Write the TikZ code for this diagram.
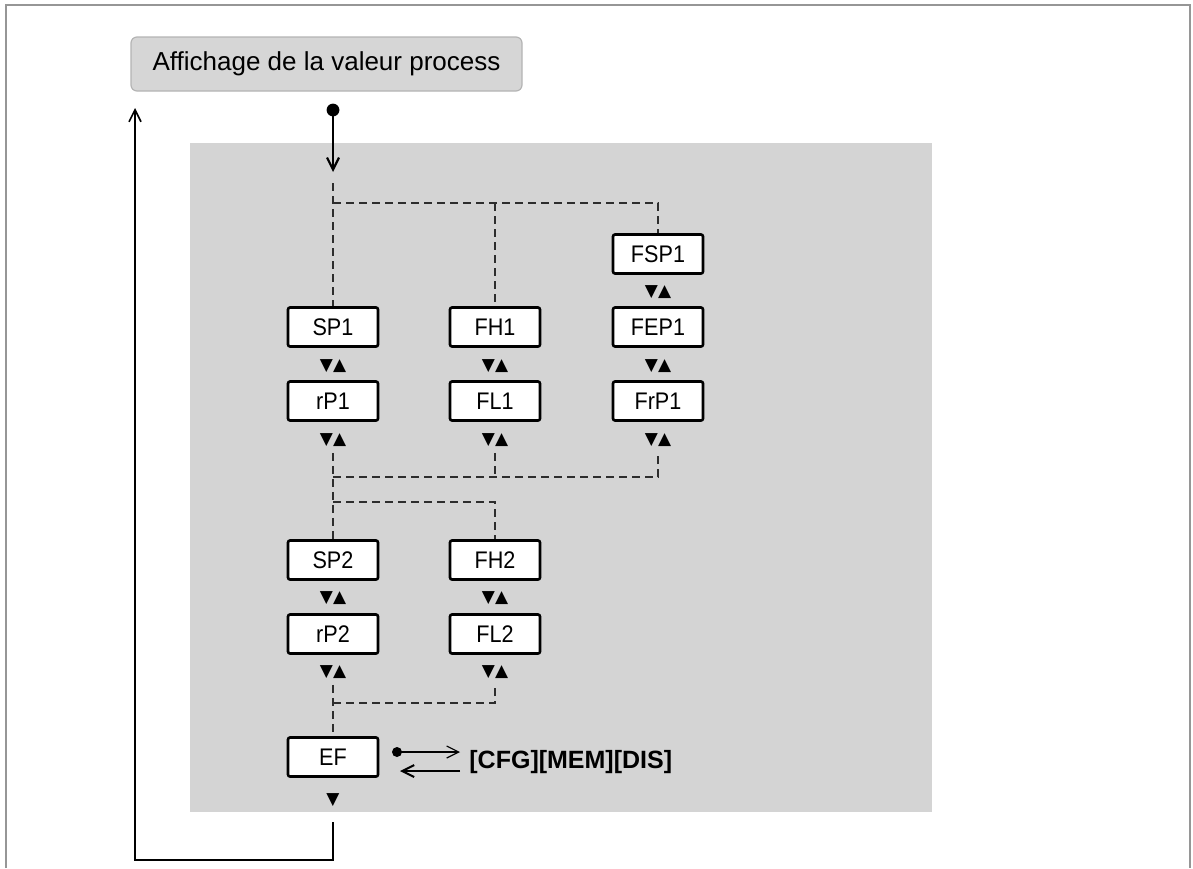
\documentclass[tikz,border=0pt]{standalone}
\usepackage{fontspec}
\setmainfont{Liberation Sans}
\newfontfamily\narrowfont[FakeStretch=0.9]{Liberation Sans}
\newfontfamily\symfont{DejaVu Sans}
\usetikzlibrary{arrows.meta}

\definecolor{panelgray}{RGB}{212,212,212}
\definecolor{titlegray}{RGB}{214,214,214}
\definecolor{titleedge}{RGB}{180,180,180}
\definecolor{framegray}{RGB}{150,150,150}
\definecolor{dashgray}{RGB}{45,45,45}

\tikzset{
  menubox/.style={draw, line width=1.3pt, fill=white, rounded corners=1pt,
    minimum width=45pt, minimum height=19.5pt, inner sep=0pt,
    font=\narrowfont\fontsize{12}{14}\selectfont},
  titlebox/.style={draw=titleedge, line width=0.6pt, fill=titlegray, rounded corners=3pt,
    minimum width=195.5pt, minimum height=27pt, inner sep=0pt,
    font=\fontsize{13}{15}\selectfont},
  updown/.style={inner sep=0pt, font=\symfont\fontsize{8.5}{9}\selectfont},
  dashline/.style={draw=dashgray, line width=0.95pt, dash pattern=on 4pt off 2.5pt},
  barb/.style={-{Straight Barb[length=6pt,width=6pt]}},
}

\begin{document}
\begin{tikzpicture}[x=0.5pt, y=-0.5pt]
\useasboundingbox (0,0) rectangle (1193,868);
% 外框和底色
\draw[framegray, line width=1pt] (6,868) -- (6,5) -- (1190,5) -- (1190,868);
\fill[panelgray] (190,143) rectangle (932,812);

\node[titlebox] (disp) at (326.5,64) {Affichage de la valeur process};

% 第一组
\node[menubox] (FSP1) at (658,254) {FSP1};
\node[updown]  (tFSP1) at (658,292) {▼▲};
\node[menubox] (SP1) at (333,327) {SP1};
\node[menubox] (FH1) at (495,327) {FH1};
\node[menubox] (FEP1) at (658,327) {FEP1};
\node[updown]  (tSP1) at (333,366) {▼▲};
\node[updown]  (tFH1) at (495,366) {▼▲};
\node[updown]  (tFEP1) at (658,366) {▼▲};
\node[menubox] (rP1) at (333,401) {rP1};
\node[menubox] (FL1) at (495,401) {FL1};
\node[menubox] (FrP1) at (658,401) {FrP1};
\node[updown]  (trP1) at (333,440) {▼▲};
\node[updown]  (tFL1) at (495,440) {▼▲};
\node[updown]  (tFrP1) at (658,440) {▼▲};

% 第二组
\node[menubox] (SP2) at (333,560) {SP2};
\node[menubox] (FH2) at (495,560) {FH2};
\node[updown]  (tSP2) at (333,598) {▼▲};
\node[updown]  (tFH2) at (495,598) {▼▲};
\node[menubox] (rP2) at (333,634) {rP2};
\node[menubox] (FL2) at (495,634) {FL2};
\node[updown]  (trP2) at (333,672) {▼▲};
\node[updown]  (tFL2) at (495,672) {▼▲};

\node[menubox] (EF) at (333,757) {EF};
\node[updown]  (tEF) at (333,800) {▼};
\node[anchor=west, inner sep=0pt, font=\bfseries\fontsize{12.5}{14}\selectfont] (cfg) at (469,762) {[CFG][MEM][DIS]};

% 入口
\coordinate (dot) at (333,110);
\coordinate (entry) at (333,172);
\coordinate (j0) at (333,203);
\fill (dot) circle (3.2pt);
\draw[barb, line width=1.1pt] (dot) -- (entry);
\draw[dashline] (333,183) -- (SP1.north);
\draw[dashline] (j0) -| (FSP1.north);
\draw[dashline] (FH1.north |- j0) -- (FH1.north);

% 虚线连接
\coordinate (j1) at (333,477);
\coordinate (j2) at (333,502);
\coordinate (j3) at (333,703);
\draw[dashline] ([yshift=-3pt]trP1.south) -- (SP2.north);
\draw[dashline] (j1) -| ([yshift=-3pt]tFrP1.south);
\draw[dashline] ([yshift=-3pt]tFL1.south) -- (tFL1 |- j1);
\draw[dashline] (j2) -| (FH2.north);
\draw[dashline] ([yshift=-3pt]trP2.south) -- (EF.north);
\draw[dashline] (j3) -| ([yshift=-3pt]tFL2.south);

% EF 旁边的箭头
\coordinate (efdot) at (397,752);
\coordinate (efout) at (460,752);
\coordinate (efin) at (460,771);
\coordinate (efback) at (400,771);
\fill (efdot) circle (2.5pt);
\draw[barb, line width=0.6pt] (efdot) -- (efout);
\draw[barb, line width=1pt] (efin) -- (efback);

% 返回
\coordinate (ret) at (333,822);
\coordinate (retcorner) at (135,860);
\coordinate (back) at (135,108);
\draw[barb, line width=0.8pt] (ret) |- (retcorner) -- (back);
\end{tikzpicture}
\end{document}
